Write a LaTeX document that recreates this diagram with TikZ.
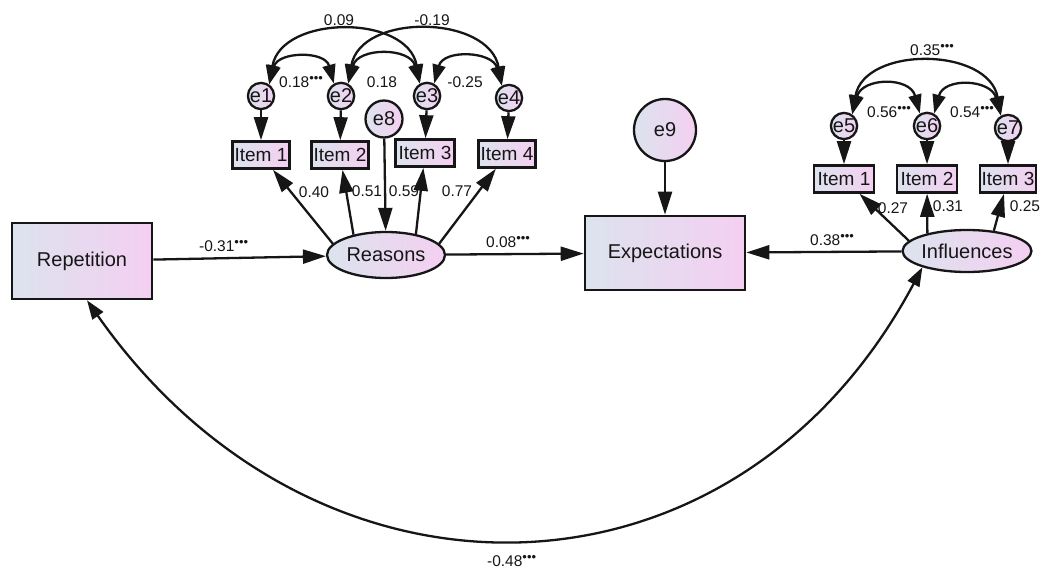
\documentclass[tikz,border=0pt]{standalone}
\usepackage{fontspec}
\setmainfont{Liberation Sans}
\usetikzlibrary{positioning, shapes.geometric, arrows.meta}
\definecolor{ink}{HTML}{161616}
\definecolor{shadel}{HTML}{DCE3EE}
\definecolor{shader}{HTML}{F4CFF1}
\newcommand{\stars}{\raisebox{0.38em}{\fontsize{13}{13}\selectfont •••}}

\begin{document}
\begin{tikzpicture}[x=1pt, y=1pt, color=ink, line width=2.3pt,
  font=\fontsize{20}{23}\selectfont,
  obs/.style={draw, line width=2.6pt, rectangle, left color=shadel, right color=shader, inner sep=1pt},
  lat/.style={draw, line width=2.3pt, ellipse, left color=shadel, right color=shader, inner sep=0pt},
  err/.style={draw, line width=2.3pt, circle, left color=shadel, right color=shader, inner sep=0pt},
  item/.style={obs, minimum width=57pt, minimum height=27pt, font=\fontsize{19}{22}\selectfont},
  coef/.style={font=\fontsize{15.5}{18}\selectfont, inner sep=1pt},
  reg/.style={-{Triangle[length=23pt,width=14pt]}},
  cov/.style={{Triangle[length=19pt,width=13pt]}-{Triangle[length=19pt,width=13pt]}}
]
  \useasboundingbox (0,0) rectangle (1040,-572);

  \node[obs, minimum width=140pt, minimum height=76pt] (rep) at (82,-261) {Repetition};
  \node[lat, minimum width=118pt, minimum height=46pt] (reas) at (386,-255) {Reasons};
  \node[obs, minimum width=160pt, minimum height=74pt] (expt) at (665,-253) {Expectations};
  \node[lat, minimum width=120pt, minimum height=42pt] (infl) at (967,-251) {Influences};

  \node[err, minimum size=62pt] (e9) at (665,-130) {e9};
  \node[err, minimum size=37pt] (e8) at (384,-119) {e8};

  \node[err, minimum size=26pt] (e1) at (261,-96) {e1};
  \node[err, minimum size=26pt] (e2) at (341,-96) {e2};
  \node[err, minimum size=26pt] (e3) at (427,-96) {e3};
  \node[err, minimum size=26pt] (e4) at (509,-98) {e4};
  \node[err, minimum size=26pt] (e5) at (844,-126) {e5};
  \node[err, minimum size=26pt] (e6) at (927,-126) {e6};
  \node[err, minimum size=26pt] (e7) at (1008,-128) {e7};

  \node[item] (ri1) at (261,-155) {Item 1};
  \node[item] (ri2) at (340,-155) {Item 2};
  \node[item, minimum width=59pt] (ri3) at (425,-153) {Item 3};
  \node[item] (ri4) at (507,-154) {Item 4};
  \node[item, minimum width=60pt] (ii1) at (844,-179) {Item 1};
  \node[item, minimum width=60pt] (ii2) at (927,-179) {Item 2};
  \node[item, minimum width=56pt] (ii3) at (1008,-179) {Item 3};

  \draw[reg] (rep) -- (reas);
  \draw[reg] (reas) -- (expt);
  \draw[reg] (infl) -- (expt);
  \draw[reg] (e9) -- (expt);
  \draw[reg] (e8) -- (reas);

  \draw[reg] (e1) -- (ri1);
  \draw[reg] (e2) -- (ri2);
  \draw[reg] (e3) -- (ri3);
  \draw[reg] (e4) -- (ri4);
  \draw[reg] (e5) -- (ii1);
  \draw[reg] (e6) -- (ii2);
  \draw[reg] (e7) -- (ii3);

  \draw[reg] (reas.168) -- (ri1);
  \draw[reg] (reas.148) -- (ri2);
  \draw[reg] (reas.35) -- (ri3);
  \draw[reg] (reas.12) -- (ri4);
  \draw[reg] (infl.170) -- (ii1);
  \draw[reg] (infl.156) -- (ii2);
  \draw[reg] (infl.37) -- (ii3);

  \draw[cov] (e1.55) to[out=80, in=100, looseness=1.2] (e3.120);
  \draw[cov] (e2.60) to[out=80, in=100, looseness=1.2] (e4.120);
  \draw[cov] (e1.55) to[out=75, in=105, looseness=1.35] (e2.120);
  \draw[cov] (e2.60) to[out=75, in=105, looseness=1.35] (e3.120);
  \draw[cov] (e3.60) to[out=75, in=105, looseness=1.35] (e4.120);
  \draw[cov] (e5.55) to[out=80, in=100, looseness=1.2] (e7.120);
  \draw[cov] (e5.55) to[out=75, in=105, looseness=1.45] (e6.120);
  \draw[cov] (e6.60) to[out=75, in=105, looseness=1.45] (e7.120);

  \draw[cov] ([xshift=5pt]rep.south) to[out=-55, in=-118, looseness=1.22] (infl.200);

  \node[coef, anchor=west] (crr) at (197,-246) {-0.31\stars};
  \node[coef, anchor=west] (cre) at (484,-242) {0.08\stars};
  \node[coef, anchor=west] (cie) at (808,-240) {0.38\stars};
  \node[coef, anchor=west] (cri) at (485,-561) {-0.48\stars};

  \node[coef] (l1) at (314,-192) {0.40};
  \node[coef] (l2) at (367,-191) {0.51};
  \node[coef] (l3) at (404,-191) {0.59};
  \node[coef] (l4) at (457,-191) {0.77};
  \node[coef] (l5) at (893,-208) {0.27};
  \node[coef] (l6) at (948,-206) {0.31};
  \node[coef] (l7) at (1025,-206) {0.25};

  \node[coef] (k13) at (339,-20) {0.09};
  \node[coef] (k24) at (432,-20) {-0.19};
  \node[coef, anchor=west] (k12) at (277,-82) {0.18\stars};
  \node[coef] (k23) at (382,-82) {0.18};
  \node[coef] (k34) at (465,-82) {-0.25};
  \node[coef, anchor=west] (k57) at (908,-50) {0.35\stars};
  \node[coef, anchor=west] (k56) at (865,-112) {0.56\stars};
  \node[coef, anchor=west] (k67) at (948,-112) {0.54\stars};
\end{tikzpicture}
\end{document}
